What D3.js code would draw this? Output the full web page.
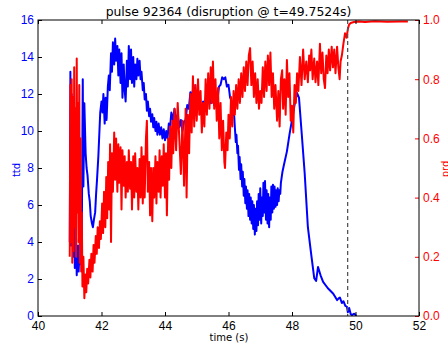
<!DOCTYPE html>
<html>
<head>
<meta charset="utf-8">
<script src="https://cdn.jsdelivr.net/npm/d3@7"></script>
<style>
  body { margin: 0; background: #fff; }
  svg { display: block; font-family: "DejaVu Sans", sans-serif; }
</style>
</head>
<body>
<svg id="chart" width="448" height="345"></svg>
<script>
// pulse info
const pulse = "92364";
const tDisrupt = 49.7524;

// axis ticks
const xTicks = [40, 42, 44, 46, 48, 50, 52];
const ttdTicks = [0, 2, 4, 6, 8, 10, 12, 14, 16];
const prdTicks = [0.0, 0.2, 0.4, 0.6, 0.8, 1.0];

// ttd signal [time s, ttd]
const ttdData = [
  [41.00, 4.0], [41.02, 13.2], [41.04, 3.8], [41.06, 12.0], [41.08, 4.5], [41.10, 10.0],
  [41.12, 3.2], [41.14, 5.5], [41.16, 2.6], [41.20, 4.2], [41.22, 2.2], [41.26, 3.8],
  [41.28, 2.4], [41.32, 4.0], [41.34, 2.8], [41.38, 4.5], [41.41, 12.8], [41.43, 7.0],
  [41.46, 11.5], [41.50, 8.8], [41.53, 8.0], [41.56, 7.6], [41.60, 6.6], [41.63, 6.2],
  [41.66, 5.4], [41.70, 5.0], [41.73, 4.8], [41.76, 5.2], [41.80, 5.6], [41.83, 6.6],
  [41.86, 7.4], [41.90, 8.6], [41.93, 9.8], [41.96, 11.0], [42.00, 11.6], [42.03, 11.0],
  [42.06, 12.0], [42.10, 10.4], [42.13, 11.8], [42.16, 10.6], [42.20, 12.4], [42.23, 13.0],
  [42.26, 12.2], [42.30, 14.2], [42.33, 13.2], [42.36, 14.8], [42.40, 13.6], [42.43, 15.0],
  [42.46, 13.8], [42.50, 14.6], [42.53, 13.0], [42.56, 14.4], [42.60, 12.6], [42.63, 14.2],
  [42.66, 11.8], [42.70, 13.6], [42.73, 12.2], [42.76, 11.6], [42.80, 13.8], [42.83, 12.4],
  [42.86, 14.6], [42.90, 12.8], [42.93, 14.4], [42.96, 12.6], [43.00, 14.0], [43.03, 12.4],
  [43.06, 13.6], [43.10, 12.8], [43.13, 13.9], [43.16, 13.0], [43.20, 13.8], [43.23, 12.8],
  [43.26, 13.2], [43.30, 12.2], [43.33, 12.6], [43.36, 11.7], [43.40, 12.0], [43.43, 11.1],
  [43.46, 11.6], [43.50, 10.8], [43.53, 11.2], [43.56, 10.5], [43.60, 10.9], [43.63, 10.2],
  [43.66, 10.7], [43.70, 10.0], [43.73, 10.5], [43.76, 9.8], [43.80, 10.4], [43.84, 9.8],
  [43.88, 10.2], [43.92, 9.6], [43.96, 10.1], [44.00, 9.5], [44.04, 10.0], [44.08, 9.6],
  [44.12, 10.4], [44.16, 10.2], [44.20, 11.0], [44.25, 10.6], [44.30, 11.2], [44.35, 10.5],
  [44.40, 10.9], [44.45, 10.2], [44.50, 10.6], [44.55, 10.0], [44.60, 10.5], [44.65, 10.6],
  [44.70, 11.4], [44.75, 11.2], [44.80, 12.1], [44.85, 11.8], [44.90, 12.5], [44.95, 11.6],
  [45.00, 12.0], [45.05, 11.2], [45.10, 11.6], [45.15, 10.9], [45.20, 11.6], [45.25, 11.3],
  [45.30, 12.0], [45.35, 11.6], [45.40, 12.2], [45.45, 11.5], [45.50, 12.0], [45.55, 11.4],
  [45.60, 11.9], [45.65, 11.6], [45.70, 12.4], [45.75, 12.5], [45.80, 12.9], [45.85, 12.8],
  [45.90, 12.9], [45.95, 12.4], [46.00, 12.5], [46.05, 11.8], [46.10, 11.6], [46.14, 11.0],
  [46.18, 10.8], [46.20, 10.2], [46.23, 9.4], [46.25, 9.8], [46.28, 8.8], [46.30, 9.2],
  [46.33, 7.9], [46.35, 8.6], [46.38, 7.4], [46.40, 8.2],
  [46.43, 7.0], [46.45, 7.8], [46.48, 6.5], [46.50, 7.4], [46.53, 6.1], [46.55, 7.0],
  [46.58, 5.8], [46.60, 6.8], [46.63, 5.4], [46.65, 6.6], [46.68, 5.2], [46.70, 6.4],
  [46.73, 5.0], [46.75, 6.2], [46.78, 4.7], [46.80, 6.0], [46.83, 4.4], [46.85, 5.8],
  [46.88, 4.6], [46.90, 6.2], [46.93, 4.9], [46.95, 6.6], [46.98, 5.2], [47.00, 6.9],
  [47.03, 5.0], [47.05, 6.4], [47.08, 5.4], [47.10, 7.2], [47.13, 5.6], [47.15, 7.3],
  [47.18, 5.2], [47.20, 6.8], [47.23, 5.0], [47.25, 6.6], [47.28, 4.8], [47.30, 6.4],
  [47.33, 5.2], [47.35, 7.0], [47.38, 5.6], [47.40, 7.1], [47.43, 5.8], [47.45, 7.0],
  [47.48, 5.9], [47.50, 6.8], [47.53, 6.0], [47.55, 6.9], [47.58, 6.2], [47.60, 6.8],
  [47.63, 6.6], [47.65, 7.2], [47.70, 7.8], [47.75, 8.2], [47.84, 8.9], [47.92, 9.8],
  [48.00, 10.6], [48.08, 11.4], [48.16, 12.05], [48.22, 11.8], [48.30, 10.0], [48.40, 7.7],
  [48.50, 4.8], [48.60, 3.4], [48.70, 2.05], [48.76, 1.9], [48.82, 2.65], [48.90, 2.2],
  [48.98, 1.84], [49.13, 1.5], [49.30, 1.2], [49.42, 0.86], [49.47, 0.95], [49.51, 1.0],
  [49.57, 0.7], [49.62, 0.8], [49.68, 0.55], [49.73, 0.5], [49.76, 0.2], [49.80, 0.43],
  [49.85, 0.1], [49.89, 0.05], [49.95, 0.12], [49.98, 0.1], [50.02, 0.0]
];

// prd signal [time s, prd]
const prdData = [
  [41.00, 0.20], [41.02, 0.78], [41.04, 0.25], [41.06, 0.80], [41.08, 0.18], [41.10, 0.74],
  [41.12, 0.22], [41.14, 0.84], [41.16, 0.30], [41.18, 0.70], [41.20, 0.20], [41.22, 0.87],
  [41.24, 0.35], [41.26, 0.72], [41.28, 0.25], [41.30, 0.78], [41.32, 0.18], [41.34, 0.60],
  [41.36, 0.15], [41.38, 0.35], [41.40, 0.10], [41.43, 0.20], [41.46, 0.06], [41.49, 0.14],
  [41.52, 0.08], [41.55, 0.16], [41.58, 0.11], [41.62, 0.19], [41.65, 0.13], [41.68, 0.21],
  [41.72, 0.15], [41.75, 0.24], [41.78, 0.18], [41.82, 0.27], [41.85, 0.21], [41.88, 0.30],
  [41.92, 0.23], [41.95, 0.32], [41.98, 0.26], [42.02, 0.38], [42.05, 0.28], [42.08, 0.42],
  [42.12, 0.30], [42.15, 0.47], [42.18, 0.33], [42.21, 0.52], [42.24, 0.36], [42.27, 0.58],
  [42.30, 0.25], [42.33, 0.55], [42.36, 0.42], [42.40, 0.62], [42.43, 0.46], [42.46, 0.60],
  [42.50, 0.42], [42.53, 0.58], [42.56, 0.45], [42.60, 0.57], [42.63, 0.36], [42.66, 0.56],
  [42.70, 0.44], [42.73, 0.54], [42.76, 0.40], [42.80, 0.52], [42.83, 0.42], [42.86, 0.56],
  [42.90, 0.43], [42.93, 0.52], [42.96, 0.36], [43.00, 0.54], [43.03, 0.40], [43.06, 0.55],
  [43.10, 0.42], [43.13, 0.50], [43.16, 0.36], [43.20, 0.53], [43.23, 0.40], [43.26, 0.57],
  [43.30, 0.38], [43.33, 0.54], [43.36, 0.40], [43.40, 0.60], [43.43, 0.66], [43.46, 0.42],
  [43.50, 0.52], [43.53, 0.34], [43.56, 0.50], [43.60, 0.32], [43.63, 0.50], [43.66, 0.40],
  [43.70, 0.54], [43.73, 0.38], [43.76, 0.52], [43.80, 0.42], [43.83, 0.56], [43.86, 0.40],
  [43.90, 0.54], [43.93, 0.44], [43.96, 0.58], [44.00, 0.40], [44.03, 0.55], [44.06, 0.34],
  [44.10, 0.60], [44.13, 0.46], [44.16, 0.64], [44.20, 0.50], [44.23, 0.66], [44.26, 0.55],
  [44.30, 0.70], [44.35, 0.56], [44.40, 0.72], [44.45, 0.60], [44.50, 0.48], [44.55, 0.66],
  [44.60, 0.44], [44.65, 0.70], [44.68, 0.40], [44.72, 0.68], [44.76, 0.55], [44.80, 0.75],
  [44.84, 0.62], [44.88, 0.81], [44.92, 0.64], [44.96, 0.78], [45.00, 0.66], [45.04, 0.80],
  [45.08, 0.68], [45.12, 0.76], [45.16, 0.62], [45.20, 0.72], [45.24, 0.64], [45.28, 0.80],
  [45.32, 0.68], [45.36, 0.82], [45.40, 0.70], [45.44, 0.84], [45.48, 0.72], [45.51, 0.86],
  [45.55, 0.70], [45.59, 0.80], [45.63, 0.66], [45.67, 0.77], [45.71, 0.60], [45.75, 0.72],
  [45.79, 0.56], [45.83, 0.66], [45.87, 0.52], [45.89, 0.50], [45.93, 0.62], [45.97, 0.56],
  [46.00, 0.68], [46.04, 0.60], [46.08, 0.74], [46.12, 0.64], [46.16, 0.76], [46.20, 0.68],
  [46.24, 0.78], [46.28, 0.70], [46.32, 0.80], [46.36, 0.72], [46.40, 0.82], [46.44, 0.74],
  [46.48, 0.84], [46.52, 0.76], [46.56, 0.86], [46.60, 0.78], [46.64, 0.88], [46.68, 0.905],
  [46.72, 0.78], [46.76, 0.86], [46.80, 0.74], [46.84, 0.82], [46.88, 0.72], [46.92, 0.80],
  [46.96, 0.70], [47.00, 0.76], [47.04, 0.72], [47.08, 0.84], [47.12, 0.74], [47.16, 0.86],
  [47.20, 0.76], [47.24, 0.88], [47.28, 0.78], [47.32, 0.89], [47.36, 0.74], [47.40, 0.82],
  [47.44, 0.70], [47.48, 0.78], [47.53, 0.66], [47.57, 0.76], [47.61, 0.64], [47.65, 0.80],
  [47.69, 0.83], [47.72, 0.70], [47.76, 0.80], [47.80, 0.68], [47.84, 0.865], [47.88, 0.74],
  [47.92, 0.82], [47.96, 0.66], [48.00, 0.71], [48.04, 0.62], [48.08, 0.78], [48.12, 0.72],
  [48.16, 0.82], [48.20, 0.76], [48.25, 0.875], [48.30, 0.78], [48.35, 0.90], [48.40, 0.80],
  [48.45, 0.86], [48.50, 0.79], [48.54, 0.88], [48.57, 0.83], [48.61, 0.90], [48.65, 0.80],
  [48.70, 0.87], [48.74, 0.79], [48.79, 0.86], [48.83, 0.78], [48.88, 0.92], [48.92, 0.82],
  [48.96, 0.89], [49.00, 0.80], [49.04, 0.77], [49.08, 0.88], [49.12, 0.82], [49.16, 0.90],
  [49.20, 0.83], [49.25, 0.91], [49.29, 0.84], [49.33, 0.90], [49.37, 0.82], [49.42, 0.91],
  [49.46, 0.84], [49.50, 0.80], [49.53, 0.86], [49.57, 0.88], [49.62, 0.92], [49.67, 0.955],
  [49.72, 0.94], [49.76, 0.97], [49.80, 0.985], [49.85, 0.99], [49.95, 0.993], [50.10, 0.995],
  [50.30, 0.993], [50.60, 0.996], [51.00, 0.994], [51.40, 0.995], [51.65, 0.995]
];

const svg = d3.select("#chart");
const margin = { top: 20, right: 29, bottom: 29, left: 38 };
const width = 448 - margin.left - margin.right;
const height = 345 - margin.top - margin.bottom;

const x = d3.scaleLinear().domain([40, 52]).range([0, width]);
const yL = d3.scaleLinear().domain([0, 16]).range([height, 0]);
const yR = d3.scaleLinear().domain([0, 1]).range([height, 0]);

const g = svg.append("g").attr("transform", `translate(${margin.left},${margin.top})`);

g.append("clipPath").attr("id", "clip")
  .append("rect").attr("width", width).attr("height", height);

const plot = g.append("g").attr("clip-path", "url(#clip)");

// ttd line
plot.append("path")
  .datum(ttdData)
  .attr("fill", "none")
  .attr("stroke", "#0000ff")
  .attr("stroke-width", 2)
  .attr("stroke-linejoin", "round")
  .attr("d", d3.line().x(d => x(d[0])).y(d => yL(d[1])));

// prd line (twin axis, drawn on top)
plot.append("path")
  .datum(prdData)
  .attr("fill", "none")
  .attr("stroke", "#ff0000")
  .attr("stroke-width", 2)
  .attr("stroke-linejoin", "round")
  .attr("d", d3.line().x(d => x(d[0])).y(d => yR(d[1])));

// disruption marker
plot.append("line")
  .attr("x1", x(tDisrupt)).attr("x2", x(tDisrupt))
  .attr("y1", 0).attr("y2", height)
  .attr("stroke", "#555")
  .attr("stroke-width", 1.3)
  .attr("stroke-dasharray", "4,3");

// axes, ticks inward like matplotlib
const tickLen = 4;
const xBottom = d3.axisBottom(x).tickValues(xTicks).tickSize(-tickLen).tickPadding(5);
const xTop = d3.axisTop(x).tickValues(xTicks).tickSize(-tickLen).tickFormat("");
const left = d3.axisLeft(yL).tickValues(ttdTicks).tickSize(-tickLen).tickPadding(4);
const right = d3.axisRight(yR).tickValues(prdTicks).tickSize(-tickLen).tickPadding(4)
  .tickFormat(d3.format(".1f"));

function style(sel, color, tickColor) {
  sel.select(".domain").remove();
  sel.selectAll(".tick line").attr("stroke", tickColor);
  sel.selectAll(".tick text").attr("fill", color).style("font-size", "12px");
}

g.append("g").attr("transform", `translate(0,${height})`).call(xBottom).call(s => style(s, "#000", "#000"));
g.append("g").call(xTop).call(s => style(s, "#000", "#000"));
g.append("g").call(left).call(s => style(s, "#0000ff", "#000"));
g.append("g").attr("transform", `translate(${width},0)`).call(right).call(s => style(s, "#ff0000", "#ff0000"));

// frame
g.append("rect")
  .attr("width", width).attr("height", height)
  .attr("fill", "none").attr("stroke", "#000").attr("stroke-width", 1);

// labels
svg.append("text")
  .attr("x", margin.left + width / 2).attr("y", 16)
  .attr("text-anchor", "middle")
  .style("font-size", "12.4px")
  .text(`pulse ${pulse} (disruption @ t=${tDisrupt}s)`);

svg.append("text")
  .attr("x", 229).attr("y", 340.5)
  .attr("text-anchor", "middle")
  .style("font-size", "10px")
  .text("time (s)");

svg.append("text")
  .attr("transform", "translate(20,170) rotate(-90)")
  .attr("text-anchor", "middle")
  .attr("fill", "#0000ff")
  .style("font-size", "10px")
  .text("ttd");

svg.append("text")
  .attr("transform", "translate(449,169) rotate(-90)")
  .attr("text-anchor", "middle")
  .attr("fill", "#ff0000")
  .style("font-size", "10px")
  .text("prd");
</script>
</body>
</html>
